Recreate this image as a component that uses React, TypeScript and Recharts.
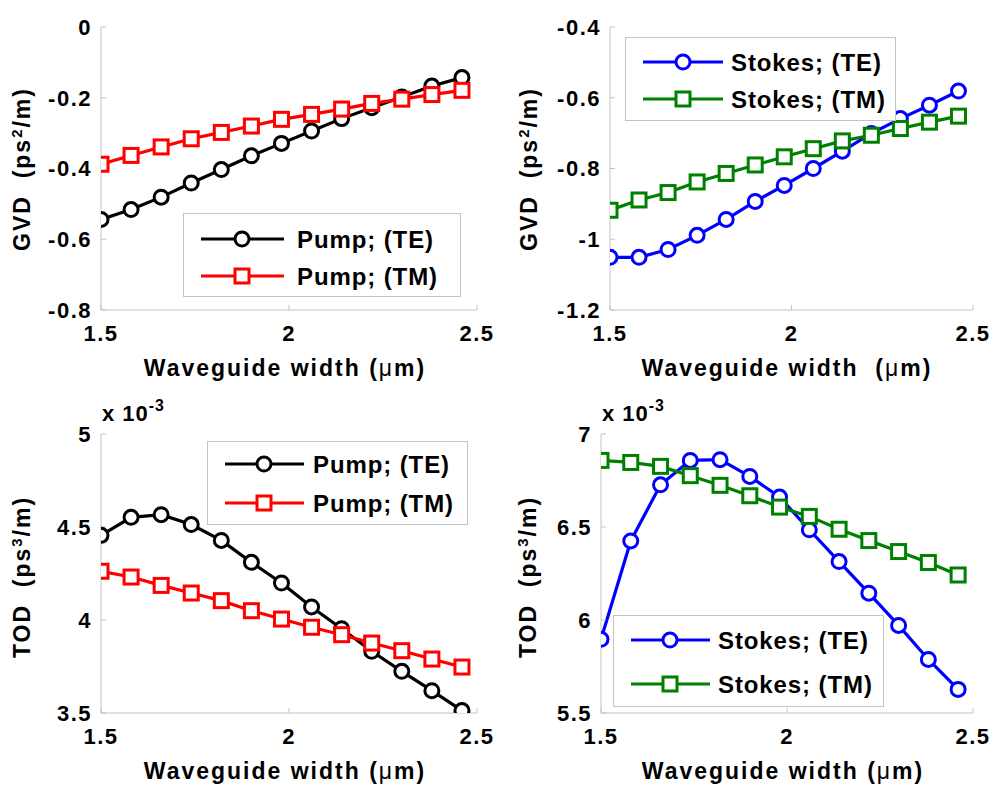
import React from 'react';
import { LineChart, Line, XAxis, YAxis, Legend } from 'recharts';

// ---------- data ----------
const widths = [1.5, 1.58, 1.66, 1.74, 1.82, 1.9, 1.98, 2.06, 2.14, 2.22, 2.3, 2.38, 2.46];

const pumpGvdTE = [-0.544, -0.516, -0.481, -0.441, -0.403, -0.364, -0.329, -0.294, -0.259, -0.228, -0.198, -0.167, -0.143];
const pumpGvdTM = [-0.388, -0.363, -0.339, -0.316, -0.298, -0.28, -0.261, -0.247, -0.232, -0.216, -0.204, -0.191, -0.179];
const stokesGvdTE = [-1.051, -1.051, -1.029, -0.989, -0.944, -0.893, -0.848, -0.8, -0.751, -0.701, -0.659, -0.621, -0.581];
const stokesGvdTM = [-0.918, -0.889, -0.868, -0.838, -0.814, -0.79, -0.767, -0.744, -0.722, -0.706, -0.687, -0.669, -0.652];
// TOD values in units of 1e-3 ps^3/m
const pumpTodTE = [4.455, 4.552, 4.566, 4.513, 4.428, 4.31, 4.199, 4.07, 3.953, 3.832, 3.724, 3.62, 3.513];
const pumpTodTM = [4.262, 4.231, 4.186, 4.145, 4.104, 4.05, 4.005, 3.961, 3.921, 3.876, 3.835, 3.79, 3.747];
const stokesTodTE = [5.896, 6.425, 6.727, 6.858, 6.862, 6.772, 6.661, 6.485, 6.314, 6.144, 5.971, 5.788, 5.627];
const stokesTodTM = [6.858, 6.847, 6.826, 6.776, 6.724, 6.668, 6.607, 6.557, 6.488, 6.427, 6.368, 6.309, 6.242];

const xTicks = [1.5, 2, 2.5];
const gvdPumpTicks = [-0.8, -0.6, -0.4, -0.2, 0];
const gvdStokesTicks = [-1.2, -1, -0.8, -0.6, -0.4];
const todPumpTicks = [3.5, 4, 4.5, 5];
const todStokesTicks = [5.5, 6, 6.5, 7];

const seriesNames = {
  pumpTE: 'Pump; (TE)',
  pumpTM: 'Pump; (TM)',
  stokesTE: 'Stokes; (TE)',
  stokesTM: 'Stokes; (TM)',
};

// ---------- styling ----------
const FONT = '"Liberation Sans", Arial, Helvetica, sans-serif';
const FRAME = '#c4c4c4';

type Marker = 'circle' | 'square';
type Series = { name: string; color: string; marker: Marker; values: number[] };

type PanelCfg = {
  left: number; top: number; width: number; height: number;
  plotLeft: number; plotRight: number; plotTop: number; plotBottom: number;
  yDomain: [number, number]; yTicks: number[];
  series: Series[];
  legend: { left: number; top: number; width: number; height: number; rows: number[]; lineX1: number; lineX2: number; markerX: number; textX: number };
};

const makeDot = (marker: Marker, color: string) => (p: any) => {
  const { cx, cy, index } = p;
  if (cx == null || cy == null) return <g key={`e-${index}`} />;
  if (marker === 'circle') {
    return <circle key={`c-${index}`} cx={cx} cy={cy} r={7} fill="#fff" stroke={color} strokeWidth={3} />;
  }
  return <rect key={`s-${index}`} x={cx - 7} y={cy - 7} width={14} height={14} fill="#fff" stroke={color} strokeWidth={3} />;
};

const LegendBox = ({ cfg }: { cfg: PanelCfg }) => {
  const L = cfg.legend;
  return (
    <div style={{ width: L.width, height: L.height, border: `1px solid ${FRAME}`, background: '#fff', boxSizing: 'border-box' }}>
      <svg width={L.width - 2} height={L.height - 2} style={{ display: 'block' }}>
        {cfg.series.map((s, i) => (
          <g key={s.name}>
            <line x1={L.lineX1} x2={L.lineX2} y1={L.rows[i]} y2={L.rows[i]} stroke={s.color} strokeWidth={3.2} />
            {s.marker === 'circle' ? (
              <circle cx={L.markerX} cy={L.rows[i]} r={7} fill="#fff" stroke={s.color} strokeWidth={3} />
            ) : (
              <rect x={L.markerX - 7} y={L.rows[i] - 7} width={14} height={14} fill="#fff" stroke={s.color} strokeWidth={3} />
            )}
            <text x={L.textX} y={L.rows[i]} dominantBaseline="central" fontFamily={FONT} fontWeight="bold" fontSize={24} letterSpacing={0.9} fill="#000">
              {s.name}
            </text>
          </g>
        ))}
      </svg>
    </div>
  );
};

const tickStyle = { fill: '#000', fontSize: 22, fontWeight: 'bold', fontFamily: FONT, letterSpacing: 1.5 } as any;

const Panel = ({ cfg }: { cfg: PanelCfg }) => {
  const data = widths.map((w, i) => ({ w, s0: cfg.series[0].values[i], s1: cfg.series[1].values[i] }));
  const YW = 60;
  const XH = 30;
  const margin = {
    top: cfg.plotTop - cfg.top,
    left: cfg.plotLeft - cfg.left - YW,
    right: cfg.left + cfg.width - cfg.plotRight,
    bottom: cfg.top + cfg.height - cfg.plotBottom - XH,
  };
  return (
    <div style={{ position: 'absolute', left: cfg.left, top: cfg.top }}>
      <LineChart width={cfg.width} height={cfg.height} data={data} margin={margin}>
        <XAxis
          xAxisId="b" dataKey="w" type="number" domain={[1.5, 2.5]} ticks={xTicks} interval={0}
          allowDataOverflow height={XH} tickSize={-5} tickMargin={20}
          axisLine={{ stroke: FRAME, strokeWidth: 1 }} tickLine={{ stroke: FRAME }} tick={tickStyle}
        />
        <XAxis
          xAxisId="t" orientation="top" dataKey="w" type="number" domain={[1.5, 2.5]} ticks={xTicks} interval={0}
          allowDataOverflow height={0} tickSize={-5} tickFormatter={() => ''}
          axisLine={{ stroke: FRAME, strokeWidth: 1 }} tickLine={{ stroke: FRAME }}
        />
        <YAxis
          yAxisId="l" type="number" domain={cfg.yDomain} ticks={cfg.yTicks} interval={0}
          allowDataOverflow width={YW} tickSize={-5} tickMargin={14}
          axisLine={{ stroke: FRAME, strokeWidth: 1 }} tickLine={{ stroke: FRAME }} tick={tickStyle}
        />
        <YAxis
          yAxisId="r" orientation="right" type="number" domain={cfg.yDomain} ticks={cfg.yTicks} interval={0}
          allowDataOverflow width={0} tickSize={-5} tickFormatter={() => ''}
          axisLine={{ stroke: FRAME, strokeWidth: 1 }} tickLine={{ stroke: FRAME }}
        />
        <Legend
          layout="vertical" align="center" verticalAlign="middle"
          wrapperStyle={{ left: cfg.legend.left - cfg.left, top: cfg.legend.top - cfg.top, width: cfg.legend.width, height: cfg.legend.height }}
          content={() => <LegendBox cfg={cfg} />}
        />
        {cfg.series.map((s, i) => (
          <Line
            key={s.name} xAxisId="b" yAxisId="l" dataKey={`s${i}`} name={s.name} type="linear"
            stroke={s.color} strokeWidth={3.2} dot={makeDot(s.marker, s.color)} activeDot={false}
            isAnimationActive={false}
          />
        ))}
      </LineChart>
    </div>
  );
};

const panels: PanelCfg[] = [
  {
    left: 0, top: 0, width: 500, height: 390,
    plotLeft: 101, plotRight: 477, plotTop: 27, plotBottom: 310,
    yDomain: [-0.8, 0], yTicks: gvdPumpTicks,
    series: [
      { name: seriesNames.pumpTE, color: '#000000', marker: 'circle', values: pumpGvdTE },
      { name: seriesNames.pumpTM, color: '#ff0000', marker: 'square', values: pumpGvdTM },
    ],
    legend: { left: 183, top: 213, width: 278, height: 84, rows: [25, 62], lineX1: 17, lineX2: 100, markerX: 58, textX: 113 },
  },
  {
    left: 500, top: 0, width: 500, height: 390,
    plotLeft: 610, plotRight: 973, plotTop: 27, plotBottom: 310,
    yDomain: [-1.2, -0.4], yTicks: gvdStokesTicks,
    series: [
      { name: seriesNames.stokesTE, color: '#0000ff', marker: 'circle', values: stokesGvdTE },
      { name: seriesNames.stokesTM, color: '#008000', marker: 'square', values: stokesGvdTM },
    ],
    legend: { left: 625, top: 37, width: 271, height: 84, rows: [24, 61], lineX1: 17, lineX2: 97, markerX: 57, textX: 105 },
  },
  {
    left: 0, top: 390, width: 500, height: 405,
    plotLeft: 101, plotRight: 477, plotTop: 434, plotBottom: 713,
    yDomain: [3.5, 5], yTicks: todPumpTicks,
    series: [
      { name: seriesNames.pumpTE, color: '#000000', marker: 'circle', values: pumpTodTE },
      { name: seriesNames.pumpTM, color: '#ff0000', marker: 'square', values: pumpTodTM },
    ],
    legend: { left: 207, top: 441, width: 261, height: 84, rows: [22, 61], lineX1: 17, lineX2: 96, markerX: 56, textX: 105 },
  },
  {
    left: 500, top: 390, width: 500, height: 405,
    plotLeft: 601, plotRight: 973, plotTop: 434, plotBottom: 713,
    yDomain: [5.5, 7], yTicks: todStokesTicks,
    series: [
      { name: seriesNames.stokesTE, color: '#0000ff', marker: 'circle', values: stokesTodTE },
      { name: seriesNames.stokesTM, color: '#008000', marker: 'square', values: stokesTodTM },
    ],
    legend: { left: 613, top: 615, width: 271, height: 92, rows: [24, 68], lineX1: 17, lineX2: 96, markerX: 56, textX: 104 },
  },
];

const labelBase: React.CSSProperties = {
  position: 'absolute', fontFamily: FONT, fontWeight: 'bold', fontSize: 23, color: '#000',
  whiteSpace: 'pre', lineHeight: 1, transform: 'translate(-50%, -50%)',
};

const XLabel = ({ x, y, wide }: { x: number; y: number; wide?: boolean }) => (
  <div style={{ ...labelBase, left: x, top: y, letterSpacing: 2 }}>
    {wide ? 'Waveguide width  (' : 'Waveguide width ('}<span style={{ fontWeight: 'normal' }}>μ</span>m)
  </div>
);

const YLabel = ({ x, y, name, power }: { x: number; y: number; name: string; power: string }) => (
  <div style={{ ...labelBase, left: x, top: y, letterSpacing: 2, transform: 'translate(-50%, -50%) rotate(-90deg)' }}>
    {name}{'  (ps'}<sup style={{ fontSize: '0.65em', verticalAlign: '0.55em' }}>{power}</sup>{'/m)'}
  </div>
);

const Exponent = ({ x, y }: { x: number; y: number }) => (
  <div style={{ position: 'absolute', left: x, top: y, fontFamily: FONT, fontWeight: 'bold', fontSize: 22, whiteSpace: 'pre', lineHeight: 1, letterSpacing: 1 }}>
    {'x 10'}<sup style={{ fontSize: '0.72em', verticalAlign: '0.6em' }}>-3</sup>
  </div>
);

export default function App() {
  return (
    <div style={{ position: 'absolute', left: 0, top: 0, width: 1000, height: 795, background: '#fff', overflow: 'hidden' }}>
      {panels.map((p, i) => <Panel key={i} cfg={p} />)}
      <YLabel x={22} y={169} name="GVD" power="2" />
      <YLabel x={529} y={169} name="GVD" power="2" />
      <YLabel x={22} y={577} name="TOD" power="3" />
      <YLabel x={528} y={577} name="TOD" power="3" />
      <XLabel x={285} y={368} />
      <XLabel x={787} y={368} wide />
      <XLabel x={285} y={771} />
      <XLabel x={783} y={771} />
      <Exponent x={102} y={398} />
      <Exponent x={602} y={398} />
    </div>
  );
}
